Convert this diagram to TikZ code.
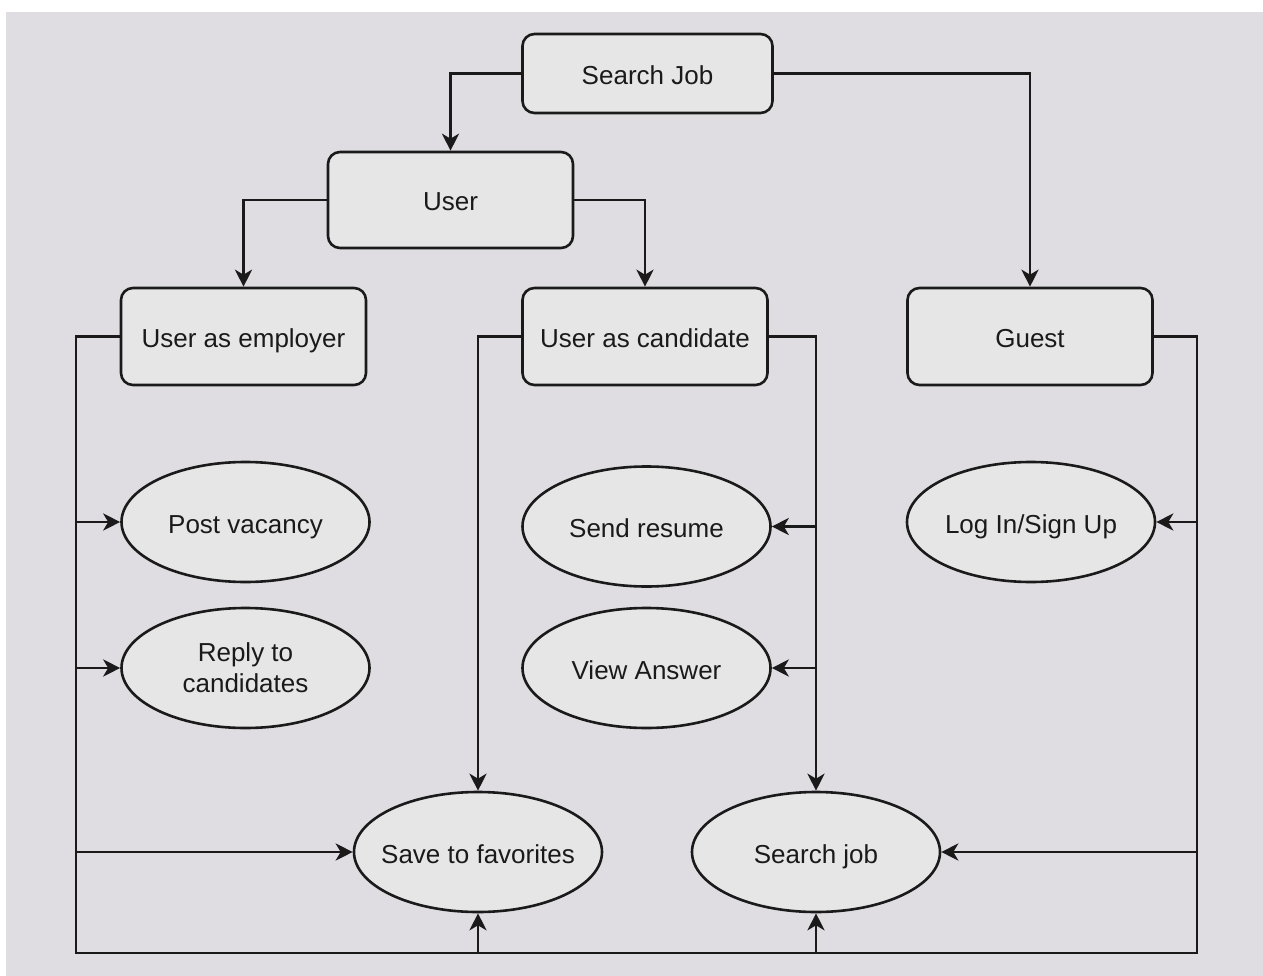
\documentclass[tikz,border=0pt]{standalone}
\usepackage{fontspec}
\setmainfont{Liberation Sans}
\usetikzlibrary{shapes.geometric,arrows.meta}
\definecolor{bggrey}{HTML}{DFDDE2}
\definecolor{nodefill}{HTML}{E6E6E6}
\definecolor{ink}{HTML}{1A1A1A}
\newcommand{\uclabel}[1]{\makebox[0pt][c]{#1}}
\begin{document}
\begin{tikzpicture}[x=1pt,y=-1pt,
  lbl/.style={font=\fontsize{26}{31}\selectfont, text=ink, align=center},
  oneline/.style={text height=24pt, text depth=2pt},
  box/.style={lbl, oneline, draw=ink, line width=2.6pt, fill=nodefill, rounded corners=12pt,
    minimum width=245pt, minimum height=97pt, inner sep=0pt},
  usecase/.style={lbl, ellipse, draw=ink, line width=2.6pt, fill=nodefill,
    minimum width=248pt, minimum height=120pt, inner sep=0pt},
  conn/.style={draw=ink, line width=2.8pt},
  arr/.style={conn, -{Stealth[length=17pt,width=17pt,inset=5pt]}}]
\useasboundingbox (0,0) rectangle (1263,976);
\fill[white] (0,0) rectangle (1263,976);
\fill[bggrey] (6,12) rectangle (1263,976);

% boxes
\node[box, minimum width=250pt, minimum height=79pt] (sj) at (647.5,73.5) {Search Job};
\node[box, minimum height=96pt] (user) at (450.5,200) {User};
\node[box] (emp) at (243.5,336.5) {User as employer};
\node[box] (cand) at (645,336.5) {User as candidate};
\node[box] (guest) at (1030,336.5) {Guest};

% use cases
\node[usecase, oneline] (pv) at (245.5,522) {\uclabel{Post vacancy}};
\node[usecase] (rc) at (245.5,668) {Reply to\\candidates};
\node[usecase, oneline] (sr) at (646.5,526.5) {\uclabel{Send resume}};
\node[usecase, oneline] (va) at (646.5,668) {\uclabel{View Answer}};
\node[usecase, oneline] (li) at (1031,522) {\uclabel{Log In/Sign Up}};
\node[usecase, oneline] (sf) at (478,852) {\uclabel{Save to favorites}};
\node[usecase, oneline] (sjob) at (816,852) {\uclabel{Search job}};

% routing points
\coordinate (eL) at (76,336.5);
\coordinate (bl) at (76,953);
\coordinate (br) at (1197,953);
\coordinate (gR) at (1197,336.5);

% top tree
\draw[arr] (sj.west) -| (user.north);
\draw[arr] (sj.east) -| (guest.north);
\draw[arr] (user.west) -| (emp.north);
\draw[arr] (user.east) -| (cand.north);

% outer loop
\draw[conn] (emp.west) -- (eL) -- (bl) -- (br) -- (gR) -- (guest.east);
\draw[arr] (eL |- pv.west) -- (pv.west);
\draw[arr] (eL |- rc.west) -- (rc.west);
\draw[arr] (eL |- sf.west) -- (sf.west);
\draw[arr] (sf.south |- bl) -- (sf.south);
\draw[arr] (sjob.south |- bl) -- (sjob.south);
\draw[arr] (gR |- li.east) -- (li.east);
\draw[arr] (gR |- sjob.east) -- (sjob.east);

% candidate
\draw[arr] (cand.west) -| (sf.north);
\draw[arr] (cand.east) -| (sjob.north);
\draw[arr] (sjob.north |- sr.east) -- (sr.east);
\draw[arr] (sjob.north |- va.east) -- (va.east);
\end{tikzpicture}
\end{document}
